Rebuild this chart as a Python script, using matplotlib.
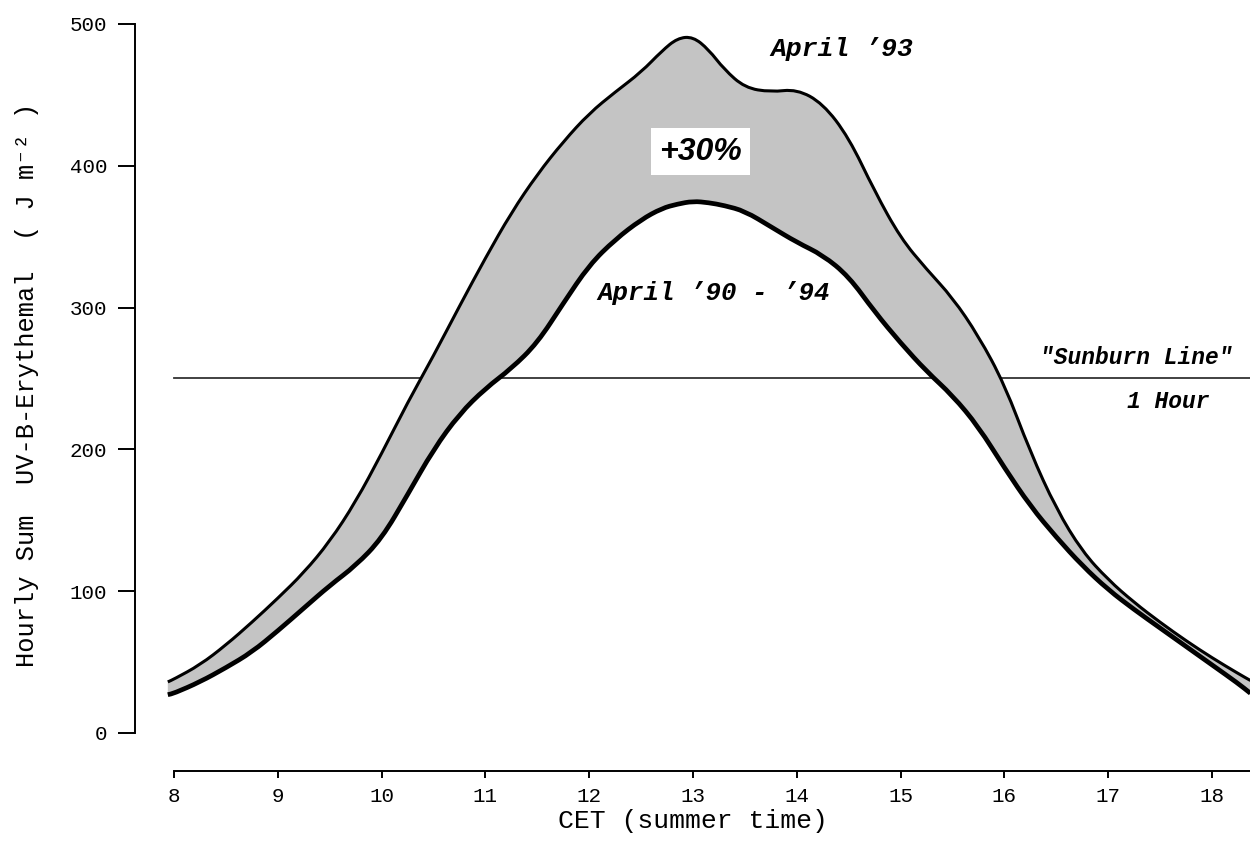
import matplotlib
matplotlib.use("Agg")
import matplotlib.pyplot as plt
from matplotlib.path import Path
from matplotlib.patches import PathPatch

plt.rcParams["font.family"] = ["Liberation Mono", "DejaVu Sans Mono"]

# Hourly erythemal UV-B sums over the day (CET, summer time)
hours = [7.94, 8.0, 8.25, 8.5, 8.75, 9.0, 9.25, 9.5, 9.75, 10.0, 10.25, 10.5,
         10.75, 11.0, 11.25, 11.5, 11.75, 12.0, 12.25, 12.5, 12.7, 12.85,
         13.0, 13.15, 13.3, 13.5, 13.75, 14.0, 14.25, 14.5, 14.75, 15.0, 15.25,
         15.5, 15.75, 16.0, 16.25, 16.5, 16.75, 17.0, 17.25, 17.5, 17.75,
         18.0, 18.25, 18.37]
april_93 = [36, 38, 48, 62, 78, 95, 113, 135, 163, 197, 233, 266,
            301, 335, 367, 394, 417, 437, 452, 466, 481, 490,
            491, 482, 468, 455, 452, 454, 444, 420, 382, 349, 327,
            307, 280, 246, 198, 158, 128, 108, 92, 78, 65,
            53, 42, 37]
april_90_94 = [27, 28, 36, 46, 57, 72, 88, 104, 118, 137, 168, 200,
               225, 243, 257, 275, 303, 330, 348, 362, 370, 373,
               375, 374, 372, 368, 357, 346, 337, 322, 297, 275, 255,
               238, 216, 187, 160, 138, 118, 101, 87, 74, 61,
               48, 35, 28]
sunburn_level = 250
x_ticks = list(range(8, 19))
y_ticks = [0, 100, 200, 300, 400, 500]


def smooth_segments(xs, ys, first=Path.MOVETO):
    """Quadratic Bezier through the midpoints, using each sample as control point."""
    pts = list(zip(xs, ys))
    mids = [((a[0] + b[0]) / 2, (a[1] + b[1]) / 2) for a, b in zip(pts[:-1], pts[1:])]
    verts = [pts[0], mids[0]]
    codes = [first, Path.LINETO]
    for p, m in zip(pts[1:-1], mids[1:]):
        verts += [p, m]
        codes += [Path.CURVE3, Path.CURVE3]
    verts.append(pts[-1])
    codes.append(Path.LINETO)
    return verts, codes


fig = plt.figure(figsize=(12.5, 8.42), dpi=100)
ax = fig.add_axes([0.108, 0.0847, 0.892, 0.9094])
ax.set_xlim(7.624, 18.366)
ax.set_ylim(-26.6, 513.4)

ax.plot([8, 18.366], [sunburn_level, sunburn_level], color="#333333", lw=1.3, zorder=1)

# shaded band between the two curves
up_v, up_c = smooth_segments(hours, april_93)
lo_v, lo_c = smooth_segments(hours[::-1], april_90_94[::-1], first=Path.LINETO)
band = Path(up_v + lo_v + [up_v[0]], up_c + lo_c + [Path.CLOSEPOLY])
ax.add_patch(PathPatch(band, facecolor="#c4c4c4", edgecolor="none", zorder=2))

lo_v2, lo_c2 = smooth_segments(hours, april_90_94)
ax.add_patch(PathPatch(Path(up_v, up_c), facecolor="none", edgecolor="black",
                       lw=2.2, capstyle="butt", joinstyle="round", zorder=3))
ax.add_patch(PathPatch(Path(lo_v2, lo_c2), facecolor="none", edgecolor="black",
                       lw=3.4, capstyle="butt", joinstyle="round", zorder=3))

for side in ("top", "right"):
    ax.spines[side].set_visible(False)
ax.spines["left"].set_bounds(0, 500)
ax.spines["bottom"].set_bounds(8, 18.366)
ax.spines["left"].set_linewidth(1.4)
ax.spines["bottom"].set_linewidth(1.4)

ax.set_xticks(x_ticks)
ax.set_yticks(y_ticks)
ax.tick_params(axis="y", direction="out", length=12, width=1.4, pad=8, labelsize=15)
ax.tick_params(axis="x", direction="out", length=5, width=1.4, pad=7, labelsize=15)

ax.set_xlabel("CET (summer time)", fontsize=19, labelpad=2)
fig.text(27 / 1250, 1 - 385 / 842, "Hourly Sum  UV-B-Erythemal  ( J m\u207b\u00b2 )",
         rotation=90, ha="center", va="center", fontsize=18.3)

bold_it = dict(fontweight="bold", fontstyle="italic", ha="center", va="center")
ax.text(14.43, 482, "April \u201993", fontsize=19, **bold_it)
ax.text(13.2, 310, "April \u201990 - \u201994", fontsize=18.5, **bold_it)
ax.text(13.07, 410, "+30%", fontsize=23, family="Liberation Sans", zorder=4,
        bbox=dict(facecolor="white", edgecolor="none", pad=6), **bold_it)
ax.text(17.27, 265, "\"Sunburn Line\"", fontsize=16.5, **bold_it)
ax.text(17.58, 233.5, "1 Hour", fontsize=16.5, **bold_it)

fig.savefig("out.png", dpi=100)
